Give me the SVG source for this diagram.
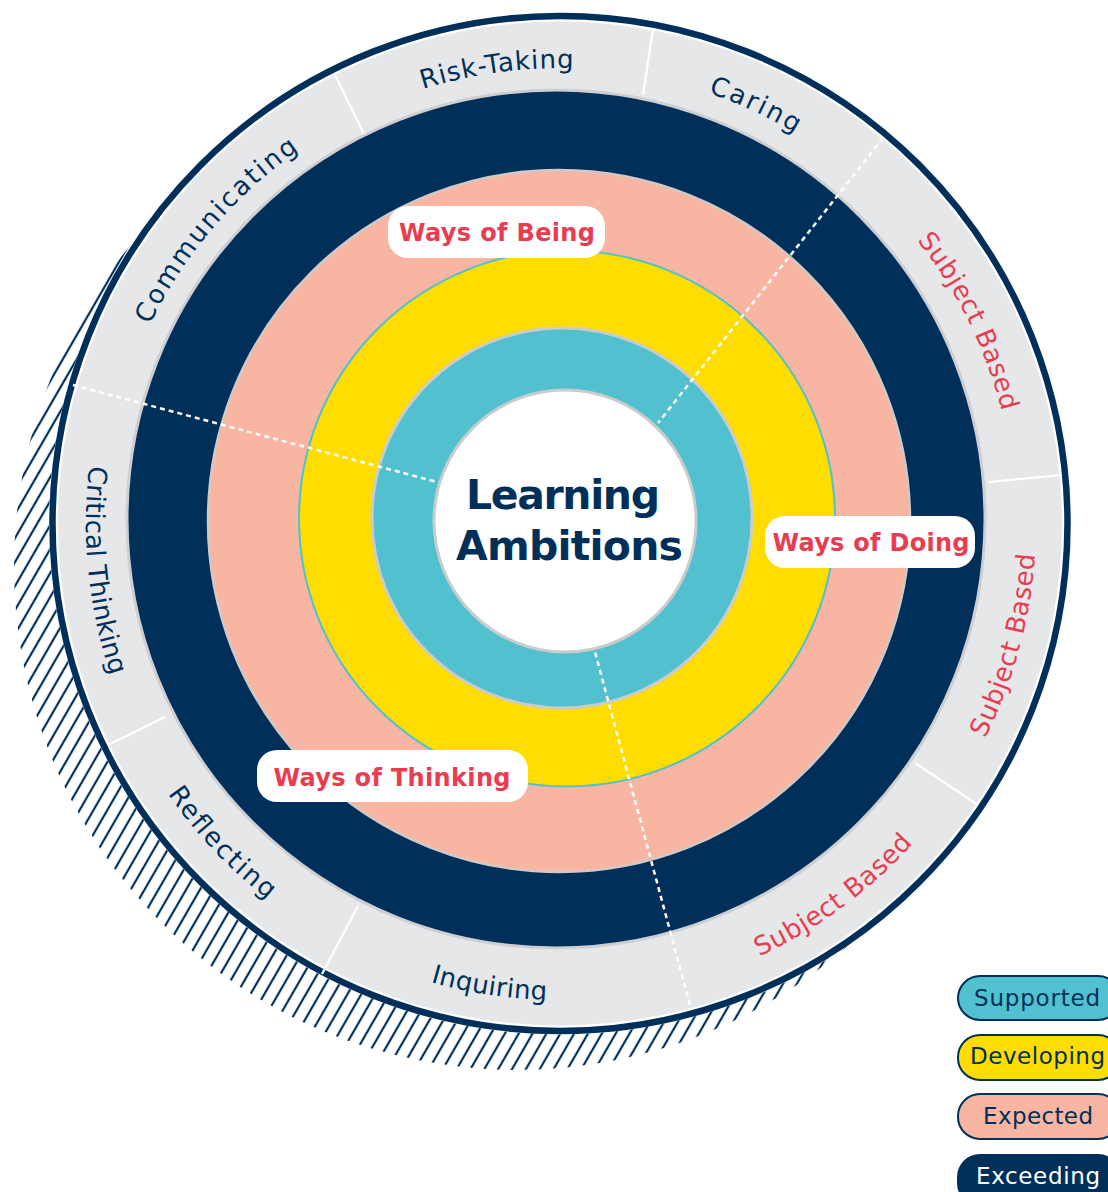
<svg xmlns="http://www.w3.org/2000/svg" width="1108" height="1192" viewBox="0 0 1108 1192">
<style>
.lbl{font-family:"DejaVu Sans","Noto Sans",sans-serif;font-size:26px;fill:#00305a;}
.red{fill:#ea3c50;}
.way{font-family:"DejaVu Sans","Noto Sans",sans-serif;font-size:24px;font-weight:700;fill:#ea3c50;text-anchor:middle;}
.pill{fill:#ffffff;}
.ctr{font-family:"DejaVu Sans","Noto Sans",sans-serif;font-size:41px;font-weight:700;fill:#00305a;text-anchor:middle;}
.leg{font-family:"DejaVu Sans","Noto Sans",sans-serif;font-size:23px;fill:#00305a;text-anchor:middle;}
.div{stroke:#ffffff;stroke-width:2.2;fill:none;}
.dash{stroke:#ffffff;stroke-width:2.5;stroke-dasharray:5 4;fill:none;}
</style>
<defs>
<pattern id="hatch" patternUnits="userSpaceOnUse" width="12" height="12" patternTransform="rotate(30)">
<line x1="6" y1="-2" x2="6" y2="14" stroke="#00305a" stroke-width="2.2"/>
</pattern>
<path id="pComm" d="M130.2,676.2 A456,456 0 0 1 643.1,75.6"/>
<path id="pRisk" d="M137.5,352.5 A456,456 0 0 1 919.8,243.9"/>
<path id="pCare" d="M298.4,150.5 A456,456 0 0 1 1014.3,484.3"/>
<path id="pSB1" d="M588.6,68.9 A456,456 0 0 1 939.8,776.3"/>
<path id="pSB2" d="M681.6,984.2 A476,476 0 0 0 897.8,188.6"/>
<path id="pSB3" d="M368.7,959.9 A476,476 0 0 0 1033.1,471.8"/>
<path id="pInq" d="M116.5,696.9 A476,476 0 0 0 931.5,821.6"/>
<path id="pRef" d="M104.1,387.2 A476,476 0 0 0 669.5,987.2"/>
<path id="pCrit" d="M281.5,137.9 A478,478 0 0 0 364.9,958.2"/>
</defs>

<g id="shadow">
<circle cx="517" cy="567" r="503" fill="url(#hatch)"/>
<circle cx="560" cy="523.5" r="511" fill="#ffffff"/>
</g>

<g id="rings">
<circle id="outer-ring" cx="560" cy="523.5" r="507.5" fill="none" stroke="#00305a" stroke-width="6.5"/>
<circle id="ring-labels" cx="560" cy="523.5" r="502" fill="#e6e7e9"/>
<circle id="ring-exceeding" cx="556" cy="519" r="429" fill="#00305a" stroke="#cdcfd2" stroke-width="3"/>
<circle id="ring-expected" cx="559" cy="521" r="351" fill="#f8b5a2" stroke="#d2c9c7" stroke-width="2.5"/>
<circle id="ring-developing" cx="567" cy="518.5" r="268" fill="#ffdd00" stroke="#52c1cf" stroke-width="2"/>
<circle id="ring-supported" cx="562" cy="518" r="190" fill="#52c1cf" stroke="#c9cbcd" stroke-width="3"/>
<circle id="core" cx="565" cy="521" r="131" fill="#ffffff" stroke="#c9cbcd" stroke-width="3"/>
</g>

<g id="connectors">
<line class="div" x1="335" y1="75" x2="364" y2="134"/>
<line class="div" x1="653" y1="29" x2="643" y2="95"/>
<line class="div" x1="988" y1="482" x2="1062" y2="475"/>
<line class="div" x1="915" y1="763" x2="978" y2="805"/>
<line class="div" x1="358" y1="906" x2="322" y2="974"/>
<line class="div" x1="108" y1="745" x2="165" y2="717"/>
<line class="dash" x1="883" y1="138" x2="658" y2="423"/>
<line class="dash" x1="73" y1="385" x2="437" y2="482"/>
<line class="dash" x1="690" y1="1005" x2="595" y2="652"/>
</g>

<g id="label-communicating"><text class="lbl"><textPath href="#pComm" startOffset="50%" text-anchor="middle" textLength="232">Communicating</textPath></text></g>
<g id="label-risk-taking"><text class="lbl"><textPath href="#pRisk" startOffset="50%" text-anchor="middle" textLength="153">Risk-Taking</textPath></text></g>
<g id="label-caring"><text class="lbl"><textPath href="#pCare" startOffset="50%" text-anchor="middle" textLength="96">Caring</textPath></text></g>
<g id="label-subject-1"><text class="lbl red"><textPath href="#pSB1" startOffset="50%" text-anchor="middle" textLength="192">Subject Based</textPath></text></g>
<g id="label-subject-2"><text class="lbl red"><textPath href="#pSB2" startOffset="50%" text-anchor="middle" textLength="192">Subject Based</textPath></text></g>
<g id="label-subject-3"><text class="lbl red"><textPath href="#pSB3" startOffset="50%" text-anchor="middle" textLength="192">Subject Based</textPath></text></g>
<g id="label-inquiring"><text class="lbl"><textPath href="#pInq" startOffset="50%" text-anchor="middle" textLength="118">Inquiring</textPath></text></g>
<g id="label-reflecting"><text class="lbl"><textPath href="#pRef" startOffset="50%" text-anchor="middle" textLength="146">Reflecting</textPath></text></g>
<g id="label-critical-thinking"><text class="lbl"><textPath href="#pCrit" startOffset="50%" text-anchor="middle" textLength="213">Critical Thinking</textPath></text></g>

<g id="ways-of-being">
<rect class="pill" x="388" y="206" width="217" height="52" rx="20"/>
<text class="way" x="497" y="241" textLength="196">Ways of Being</text>
</g>
<g id="ways-of-doing">
<rect class="pill" x="765" y="516" width="210" height="52" rx="20"/>
<text class="way" x="871" y="551" textLength="197">Ways of Doing</text>
</g>
<g id="ways-of-thinking">
<rect class="pill" x="257" y="750" width="271" height="52" rx="20"/>
<text class="way" x="392" y="786" textLength="237">Ways of Thinking</text>
</g>

<g id="center-title">
<text class="ctr" x="563" y="509" textLength="194">Learning</text>
<text class="ctr" x="569.5" y="560" textLength="227">Ambitions</text>
</g>

<g id="legend-supported">
<rect x="958" y="976" width="162" height="44" rx="22" fill="#52c1cf" stroke="#00305a" stroke-width="2"/>
<text class="leg" x="1037" y="1006" textLength="126">Supported</text>
</g>
<g id="legend-developing">
<rect x="958" y="1035" width="162" height="45" rx="22" fill="#ffdd00" stroke="#00305a" stroke-width="2"/>
<text class="leg" x="1037.5" y="1064" textLength="135">Developing</text>
</g>
<g id="legend-expected">
<rect x="958" y="1094" width="162" height="45" rx="22" fill="#f8b5a2" stroke="#00305a" stroke-width="2"/>
<text class="leg" x="1038" y="1124" textLength="110">Expected</text>
</g>
<g id="legend-exceeding">
<rect x="958" y="1155" width="162" height="50" rx="22" fill="#00305a" stroke="#00305a" stroke-width="2"/>
<text class="leg" x="1038" y="1184" textLength="124" style="fill:#ffffff">Exceeding</text>
</g>
</svg>
